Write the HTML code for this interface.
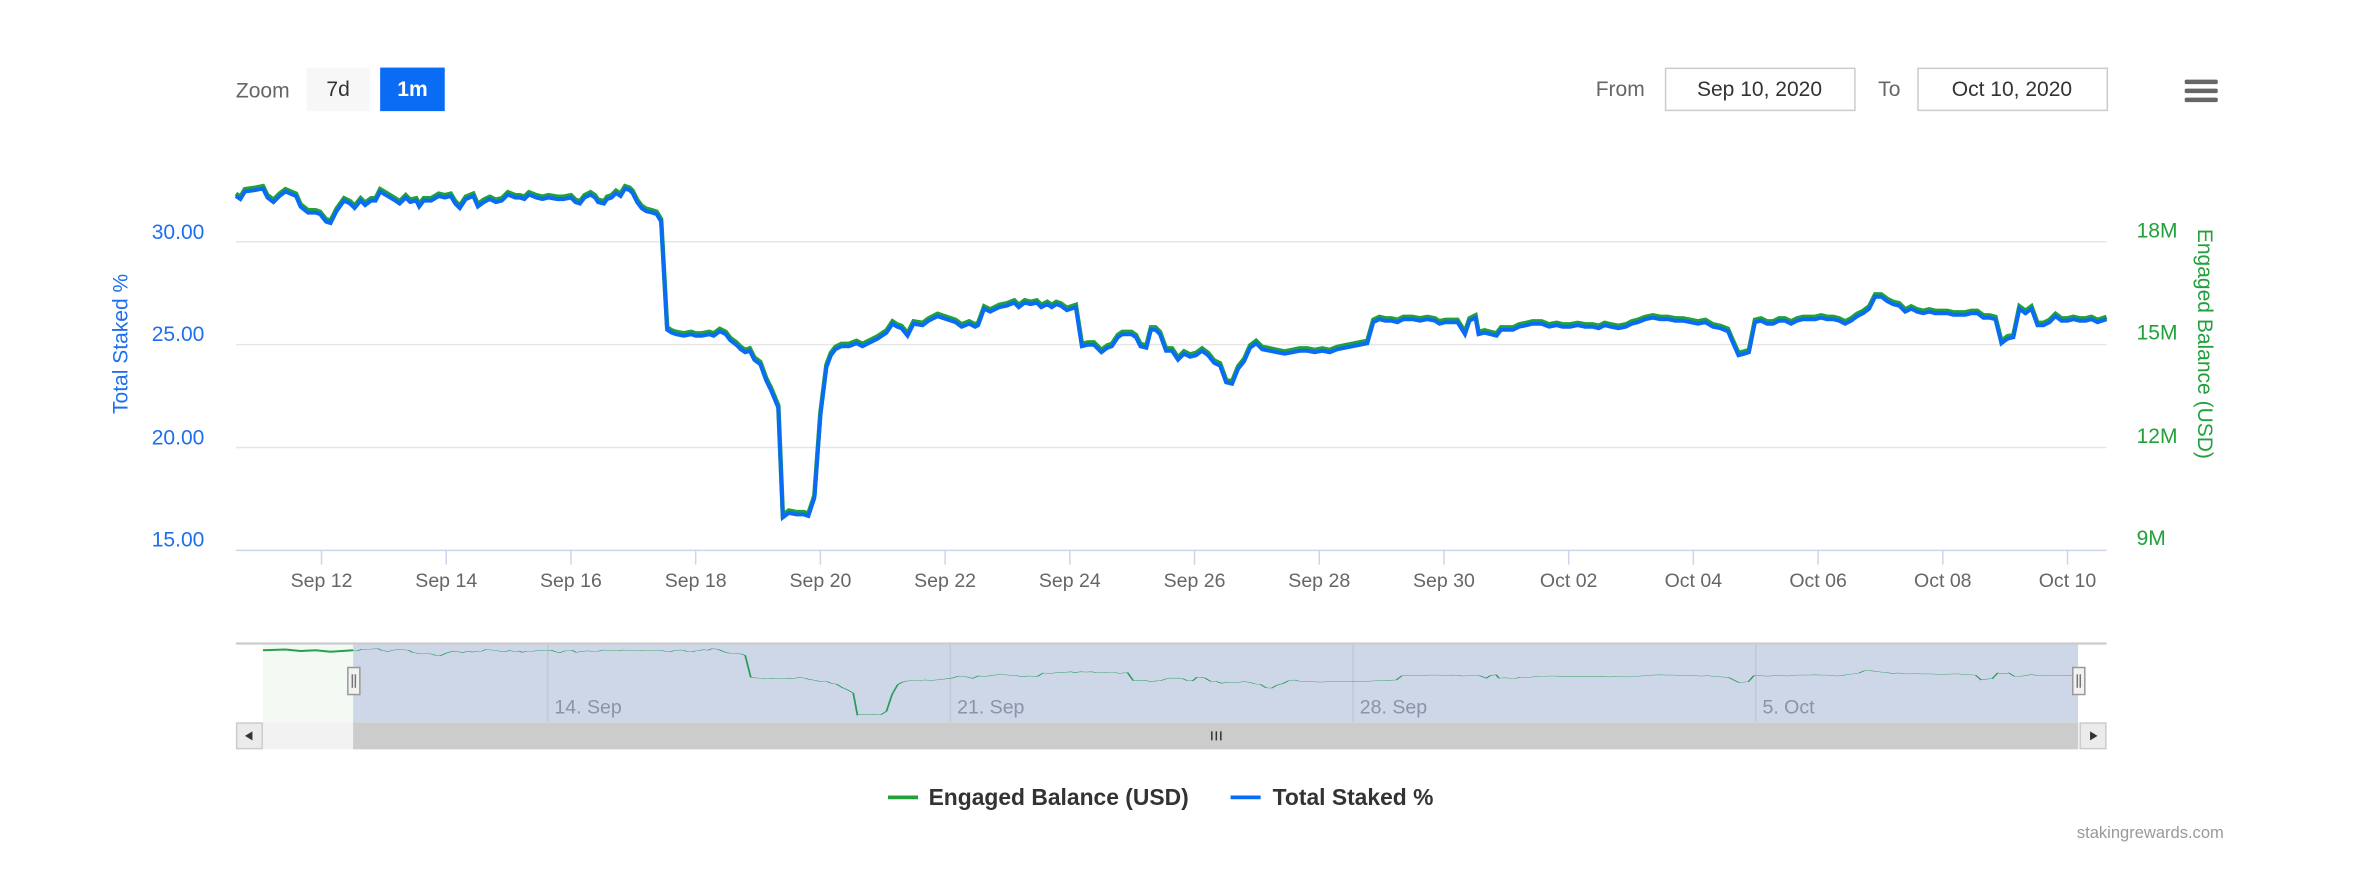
<!DOCTYPE html>
<html><head><meta charset="utf-8"><style>
html,body{margin:0;padding:0;background:#fff;}
svg{display:block;font-family:"Liberation Sans",Arial,sans-serif;}
</style></head><body>
<svg width="2356" height="880" viewBox="0 0 1568 586" preserveAspectRatio="none" xmlns="http://www.w3.org/2000/svg">
<defs>
<polyline id="d" fill="none" points="157,130 160,132 163,127 170,126 175,125 178,131 182,134 186,130 190,127 197,130 200,137 205,141 210,141 213,142 217,147 220,148 224,140 229,133 233,135 236,138 240,133 243,136 247,133 250,133 253,127 258,130 263,133 266,135 270,131 273,134 277,133 279,137 282,133 287,133 292,130 296,131 300,130 303,135 306,138 310,132 315,130 318,137 322,134 326,132 330,134 334,133 338,129 343,131 346,131 349,132 352,129 357,131 361,132 365,131 371,132 375,132 380,131 383,134 386,135 389,131 393,129 396,131 398,134 402,135 404,132 407,131 410,128 413,130 416,125 419,126 421,128 424,134 427,138 430,140 434,141 437,142 440,147 444,219 447,221 450,222 455,223 460,222 463,223 467,223 472,222 475,223 479,220 483,222 486,226 490,229 493,232 496,234 499,233 502,239 506,242 510,253 513,259 518,271 521,344 525,341 530,342 535,342 538,343 542,331 546,276 550,244 553,236 556,232 560,230 565,230 570,228 574,230 578,228 584,225 590,221 594,215 597,217 600,218 604,223 608,215 614,216 618,213 624,210 630,212 636,214 640,217 645,215 649,217 651,216 655,205 659,207 665,204 670,203 675,201 678,204 682,201 686,202 690,201 693,204 697,202 700,204 703,202 706,203 710,206 716,204 720,230 724,229 728,229 733,234 737,231 740,230 744,224 747,222 750,222 753,222 756,224 759,230 763,231 766,219 769,219 772,222 776,233 780,233 784,239 788,235 792,237 796,236 800,233 804,236 808,241 812,243 816,254 820,255 824,245 828,240 832,231 836,228 840,232 845,233 850,234 855,235 860,234 865,233 870,233 875,234 880,233 885,234 890,232 895,231 900,230 905,229 910,228 914,214 918,212 922,213 926,213 930,214 934,212 940,212 945,213 950,212 955,213 958,215 962,214 966,214 970,214 975,222 978,213 982,211 984,222 988,221 992,222 996,223 999,219 1003,219 1007,219 1011,217 1016,216 1020,215 1026,215 1031,217 1036,216 1040,217 1045,217 1050,216 1055,217 1060,217 1064,218 1068,216 1072,217 1077,218 1082,217 1086,215 1090,214 1095,212 1100,211 1105,212 1110,212 1115,213 1120,213 1125,214 1130,215 1135,214 1140,217 1145,218 1150,220 1153,227 1157,236 1161,235 1164,234 1168,214 1172,213 1176,215 1180,215 1184,213 1188,213 1192,215 1196,213 1200,212 1204,212 1208,212 1212,211 1216,212 1220,212 1224,213 1228,215 1232,213 1236,210 1240,208 1244,205 1248,197 1252,197 1256,200 1260,202 1264,203 1268,207 1272,205 1276,207 1280,208 1284,207 1288,208 1292,208 1296,208 1300,209 1304,209 1308,209 1312,208 1316,208 1320,211 1324,211 1328,212 1332,228 1336,225 1340,224 1344,205 1348,208 1352,205 1356,216 1360,216 1364,214 1368,210 1372,213 1376,213 1380,212 1384,213 1388,213 1392,212 1396,214 1402,212"/>
</defs>
<!-- header -->
<text x="157" y="65" font-size="14" fill="#666">Zoom</text>
<rect x="204" y="45" width="42" height="29" fill="#f7f7f7"/>
<text x="225" y="64" font-size="14" fill="#333" text-anchor="middle">7d</text>
<rect x="253" y="45" width="43" height="29" fill="#0a6cf5"/>
<text x="274.5" y="64" font-size="14" fill="#fff" font-weight="bold" text-anchor="middle">1m</text>
<text x="1062" y="64" font-size="14" fill="#666">From</text>
<rect x="1108.5" y="45.5" width="126" height="28" fill="#fff" stroke="#ccc"/>
<text x="1171" y="64" font-size="14" fill="#333" text-anchor="middle">Sep 10, 2020</text>
<text x="1250" y="64" font-size="14" fill="#666">To</text>
<rect x="1276.5" y="45.5" width="126" height="28" fill="#fff" stroke="#ccc"/>
<text x="1339" y="64" font-size="14" fill="#333" text-anchor="middle">Oct 10, 2020</text>
<g fill="#666"><rect x="1454" y="53" width="22" height="3" rx="1"/><rect x="1454" y="59" width="22" height="3" rx="1"/><rect x="1454" y="65" width="22" height="3" rx="1"/></g>
<!-- grid -->
<g stroke="#e6e6e6" stroke-width="1">
<line x1="157" y1="161" x2="1402" y2="161"/>
<line x1="157" y1="229.5" x2="1402" y2="229.5"/>
<line x1="157" y1="298" x2="1402" y2="298"/>
</g>
<line x1="157" y1="366.5" x2="1402" y2="366.5" stroke="#ccd6eb"/>
<g stroke="#ccd6eb">
<line x1="214" y1="366" x2="214" y2="376"/><line x1="297" y1="366" x2="297" y2="376"/><line x1="380" y1="366" x2="380" y2="376"/><line x1="463" y1="366" x2="463" y2="376"/><line x1="546" y1="366" x2="546" y2="376"/><line x1="629" y1="366" x2="629" y2="376"/><line x1="712" y1="366" x2="712" y2="376"/><line x1="795" y1="366" x2="795" y2="376"/><line x1="878" y1="366" x2="878" y2="376"/><line x1="961" y1="366" x2="961" y2="376"/><line x1="1044" y1="366" x2="1044" y2="376"/><line x1="1127" y1="366" x2="1127" y2="376"/><line x1="1210" y1="366" x2="1210" y2="376"/><line x1="1293" y1="366" x2="1293" y2="376"/><line x1="1376" y1="366" x2="1376" y2="376"/>
</g>
<g font-size="13" fill="#666" text-anchor="middle">
<text x="214" y="391">Sep 12</text><text x="297" y="391">Sep 14</text><text x="380" y="391">Sep 16</text><text x="463" y="391">Sep 18</text><text x="546" y="391">Sep 20</text><text x="629" y="391">Sep 22</text><text x="712" y="391">Sep 24</text><text x="795" y="391">Sep 26</text><text x="878" y="391">Sep 28</text><text x="961" y="391">Sep 30</text><text x="1044" y="391">Oct 02</text><text x="1127" y="391">Oct 04</text><text x="1210" y="391">Oct 06</text><text x="1293" y="391">Oct 08</text><text x="1376" y="391">Oct 10</text>
</g>
<g font-size="14" fill="#1e6ff0" text-anchor="end">
<text x="136" y="159">30.00</text><text x="136" y="227">25.00</text><text x="136" y="296">20.00</text><text x="136" y="364">15.00</text>
</g>
<g font-size="14" fill="#22a03c">
<text x="1422" y="158">18M</text><text x="1422" y="226">15M</text><text x="1422" y="295">12M</text><text x="1422" y="363">9M</text>
</g>
<text transform="translate(85,229) rotate(-90)" font-size="14" fill="#1e6ff0" text-anchor="middle">Total Staked %</text>
<text transform="translate(1463,229) rotate(90)" font-size="14" fill="#22a03c" text-anchor="middle">Engaged Balance (USD)</text>
<!-- series -->
<use href="#d" stroke="#22a03c" stroke-width="3" transform="translate(0,-1)"/>
<use href="#d" stroke="#0a6cf5" stroke-width="2.6" transform="translate(0,0.6)"/>
<!-- navigator -->
<rect x="175" y="428" width="60" height="53" fill="#f3f9f3"/>
<rect x="235" y="428" width="1148" height="53" fill="#cdd7e8"/>
<g stroke="#c0c8d8"><line x1="364.5" y1="428" x2="364.5" y2="481"/><line x1="632.5" y1="428" x2="632.5" y2="481"/><line x1="900.5" y1="428" x2="900.5" y2="481"/><line x1="1168.5" y1="428" x2="1168.5" y2="481"/></g>
<g font-size="13" fill="#8a93a8"><text x="369" y="475">14. Sep</text><text x="637" y="475">21. Sep</text><text x="905" y="475">28. Sep</text><text x="1173" y="475">5. Oct</text></g>
<polyline fill="none" stroke="#2aa04a" stroke-width="1.3" points="175,433 190,432.5 200,433.5 210,433 220,434 235,433"/>
<g transform="translate(235,432) scale(0.9221,0.2018) translate(-157,-125)"><use href="#d" stroke="#2a9a5a" stroke-width="1.3" vector-effect="non-scaling-stroke"/></g>
<line x1="157" y1="428.5" x2="1402" y2="428.5" stroke="#ccc" stroke-width="1.5"/>
<g fill="#f2f2f2" stroke="#999"><rect x="231.5" y="444.5" width="8" height="18"/><rect x="1379.5" y="444.5" width="8" height="18"/></g>
<g stroke="#777"><line x1="234.5" y1="449" x2="234.5" y2="458"/><line x1="236.5" y1="449" x2="236.5" y2="458"/><line x1="1382.5" y1="449" x2="1382.5" y2="458"/><line x1="1384.5" y1="449" x2="1384.5" y2="458"/></g>
<!-- scrollbar -->
<rect x="157" y="481" width="1245" height="18" fill="#f2f2f2"/>
<rect x="235" y="481" width="1148" height="18" fill="#cccccc"/>
<rect x="157.5" y="481.5" width="17" height="17" fill="#ebebeb" stroke="#ccc"/>
<rect x="1384.5" y="481.5" width="17" height="17" fill="#ebebeb" stroke="#ccc"/>
<path d="M168,487 L163,490 L168,493Z" fill="#333"/><path d="M1391,487 L1396,490 L1391,493Z" fill="#333"/>
<g stroke="#333"><line x1="806.5" y1="487" x2="806.5" y2="493"/><line x1="809.5" y1="487" x2="809.5" y2="493"/><line x1="812.5" y1="487" x2="812.5" y2="493"/></g>
<!-- legend -->
<line x1="591" y1="531" x2="611" y2="531" stroke="#22a03c" stroke-width="2.5"/>
<text x="618" y="536" font-size="15.2" font-weight="bold" fill="#333">Engaged Balance (USD)</text>
<line x1="819" y1="531" x2="839" y2="531" stroke="#0a6cf5" stroke-width="2.5"/>
<text x="847" y="536" font-size="15.2" font-weight="bold" fill="#333">Total Staked %</text>
<text x="1480" y="558" font-size="11" fill="#999" text-anchor="end">stakingrewards.com</text>
</svg>
</body></html>
